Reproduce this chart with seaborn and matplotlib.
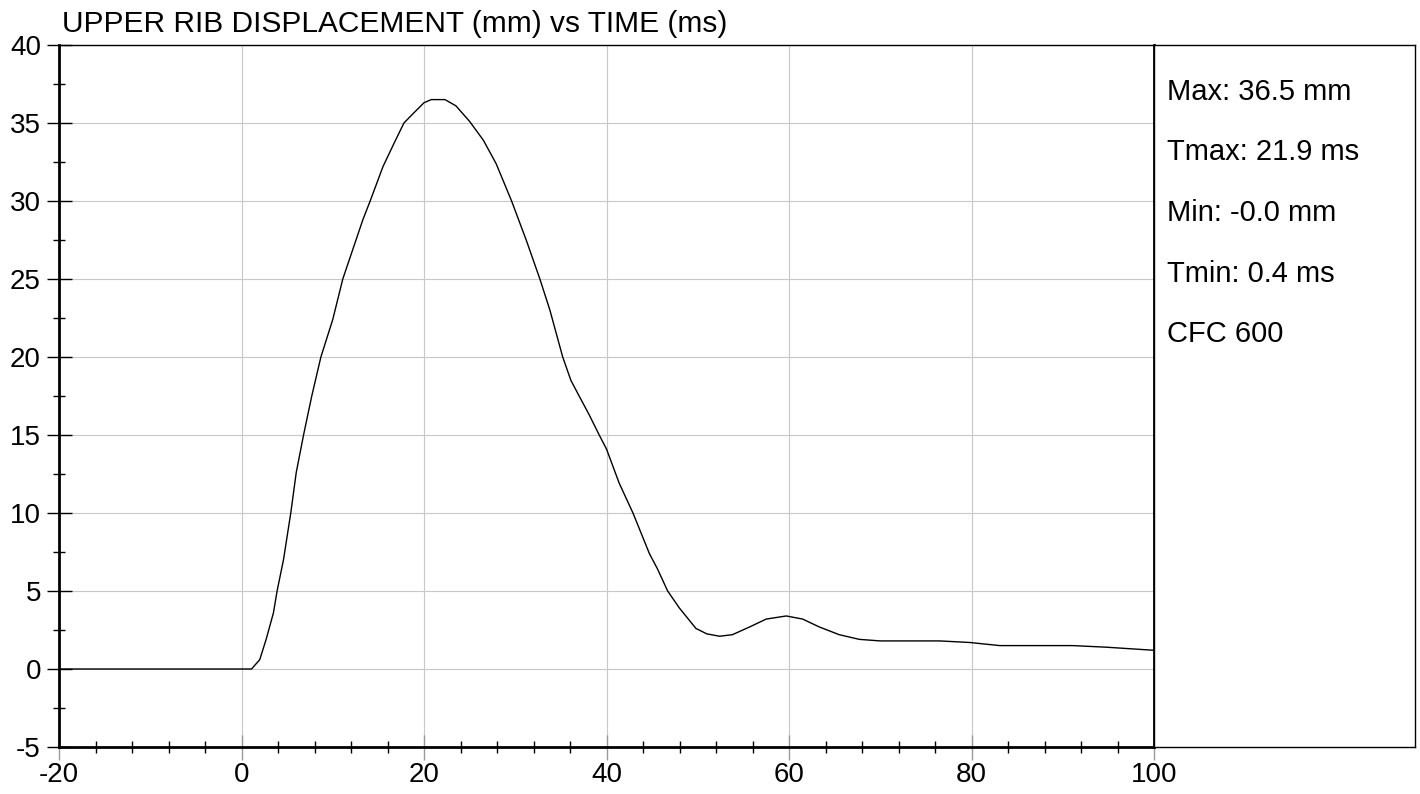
import seaborn as sns
import matplotlib.pyplot as plt
from matplotlib.ticker import MultipleLocator

# curve
time_ms = [-20, 1.1, 2.0, 2.7, 3.5, 3.9, 4.6, 5.4, 6.0, 6.8, 7.7, 8.7, 10.0,
           11.1, 12.2, 13.3, 14.1, 15.5, 16.8, 17.8, 18.8, 20.0, 20.8, 21.9,
           22.3, 23.5, 25.0, 26.5, 27.9, 29.6, 31.2, 32.7, 33.8, 35.2, 36.1,
           37.0, 38.1, 39.2, 40.0, 41.4, 42.9, 44.7, 45.6, 46.7, 48.0, 49.8,
           51.0, 52.4, 53.8, 55.7, 57.5, 59.7, 61.5, 63.3, 65.5, 67.7, 70.0,
           76.5, 79.8, 83.1, 91.1, 94.7, 100.0]
disp_mm = [0.0, 0.0, 0.6, 1.9, 3.6, 5.0, 7.0, 10.0, 12.6, 15.0, 17.5, 20.0, 22.4,
           25.0, 26.9, 28.8, 30.0, 32.2, 33.8, 35.0, 35.6, 36.3, 36.5, 36.5,
           36.5, 36.1, 35.1, 33.9, 32.4, 30.0, 27.5, 25.0, 23.0, 20.0, 18.5,
           17.5, 16.3, 15.0, 14.1, 11.9, 10.0, 7.4, 6.4, 5.0, 3.9, 2.6,
           2.25, 2.1, 2.2, 2.7, 3.2, 3.4, 3.2, 2.7, 2.2, 1.9, 1.8,
           1.8, 1.7, 1.5, 1.5, 1.4, 1.2]

title = "UPPER RIB DISPLACEMENT (mm) vs TIME (ms)"
stats = ["Max: 36.5 mm", "Tmax: 21.9 ms", "Min: -0.0 mm", "Tmin: 0.4 ms", "CFC 600"]

sns.set_style("white")
plt.rcParams["font.family"] = ["Liberation Sans", "DejaVu Sans"]
plt.rcParams["axes.unicode_minus"] = False
plt.rcParams["text.color"] = "black"
plt.rcParams["xtick.labelcolor"] = "black"
plt.rcParams["ytick.labelcolor"] = "black"

fig = plt.figure(figsize=(14.2, 7.94), dpi=100)
ax = fig.add_axes([59 / 1420, 47 / 794, 1095 / 1420, 702 / 794])
side = fig.add_axes([1154 / 1420, 47 / 794, 261 / 1420, 702 / 794])

sns.lineplot(x=time_ms, y=disp_mm, ax=ax, color="black", linewidth=1.0)

ax.set_xlim(-20, 100)
ax.set_ylim(-5, 40)
ax.xaxis.set_major_locator(MultipleLocator(20))
ax.xaxis.set_minor_locator(MultipleLocator(4))
ax.yaxis.set_major_locator(MultipleLocator(5))
ax.yaxis.set_minor_locator(MultipleLocator(2.5))
ax.grid(True, which="major", color="#c8c8c8", linewidth=0.8)
ax.set_axisbelow(True)

ax.tick_params(axis="y", which="major", direction="inout", length=18, width=1,
               color="black", labelsize=20, pad=4, left=True, labelcolor="black")
ax.tick_params(axis="y", which="minor", direction="inout", length=9, width=1,
               color="black", left=True)
ax.tick_params(axis="x", which="major", direction="inout", length=18, width=1,
               color="#999999", labelsize=20, pad=2, bottom=True, labelcolor="black")
ax.tick_params(axis="x", which="minor", direction="inout", length=9, width=1,
               color="black", bottom=True)

for name, lw in [("left", 2), ("bottom", 2), ("right", 2), ("top", 1)]:
    ax.spines[name].set_visible(True)
    ax.spines[name].set_color("black")
    ax.spines[name].set_linewidth(lw)

side.set_xticks([])
side.set_yticks([])
for name in side.spines:
    side.spines[name].set_visible(True)
    side.spines[name].set_color("black")
    side.spines[name].set_linewidth(1)

for i, s in enumerate(stats):
    side.text(13 / 261, 1 - (55 + i * 60.5) / 702, s, transform=side.transAxes,
              fontsize=21, va="baseline", ha="left", color="black")

fig.text(62 / 1420, 1 - 32 / 794, title, fontsize=21.5, va="baseline", ha="left",
         color="black")

fig.savefig("out.png", dpi=100)
